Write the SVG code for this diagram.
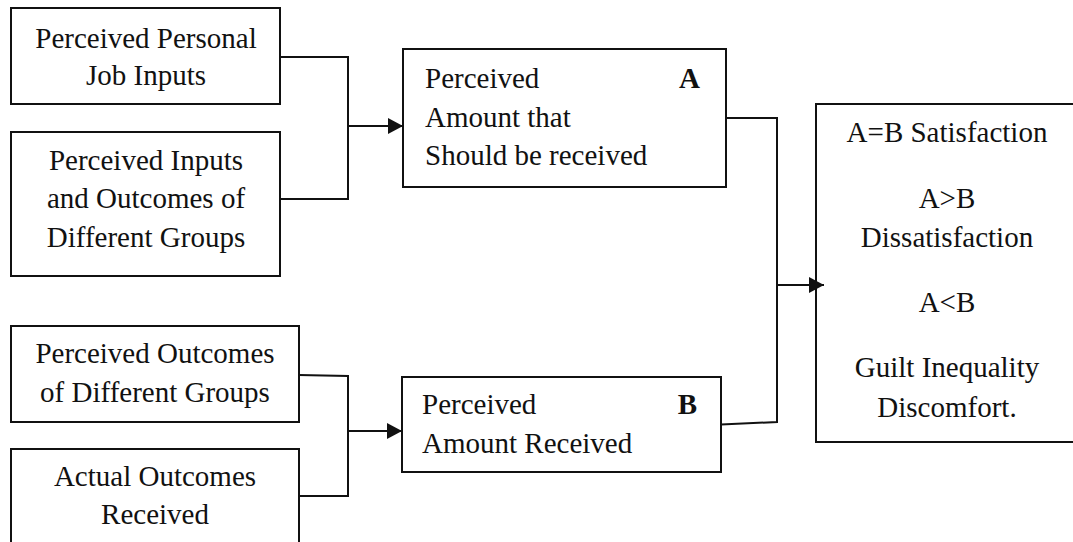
<svg xmlns="http://www.w3.org/2000/svg" width="1073" height="542" viewBox="0 0 1073 542">
  <style>
    .box { fill: #ffffff; stroke: #111111; stroke-width: 2; }
    .t { font-family: 'Liberation Serif', 'Times New Roman', serif; font-size: 29px; fill: #111111; }
    .c { text-anchor: middle; }
    .b { font-weight: bold; }
    .wire { fill: none; stroke: #111111; stroke-width: 2; }
  </style>
  <defs>
    <marker id="head" markerWidth="15" markerHeight="16" refX="15" refY="8" orient="auto" markerUnits="userSpaceOnUse">
      <path d="M0,0 L15,8 L0,16 Z" fill="#111111"/>
    </marker>
  </defs>

  <rect width="1073" height="542" fill="#ffffff"/>

  <!-- input boxes, upper pair -->
  <g id="personal-inputs">
    <rect class="box" x="11" y="8" width="269" height="96"/>
    <text class="t c" x="146" y="48">Perceived Personal</text>
    <text class="t c" x="146" y="85">Job Inputs</text>
  </g>
  <g id="group-inputs">
    <rect class="box" x="11" y="132" width="269" height="144"/>
    <text class="t c" x="146" y="170">Perceived Inputs</text>
    <text class="t c" x="146" y="208">and Outcomes of</text>
    <text class="t c" x="146" y="247">Different Groups</text>
  </g>

  <!-- input boxes, lower pair -->
  <g id="group-outcomes">
    <rect class="box" x="11" y="326" width="288" height="96"/>
    <text class="t c" x="155" y="363">Perceived Outcomes</text>
    <text class="t c" x="155" y="402">of Different Groups</text>
  </g>
  <g id="actual-outcomes">
    <rect class="box" x="11" y="449" width="288" height="96"/>
    <text class="t c" x="155" y="486">Actual Outcomes</text>
    <text class="t c" x="155" y="524">Received</text>
  </g>

  <!-- A and B -->
  <g id="amount-should">
    <rect class="box" x="403" y="49" width="323" height="138"/>
    <text class="t" x="425" y="88">Perceived</text>
    <text class="t b" x="700" y="88" text-anchor="end">A</text>
    <text class="t" x="425" y="127">Amount that</text>
    <text class="t" x="425" y="165">Should be received</text>
  </g>
  <g id="amount-received">
    <rect class="box" x="402" y="377" width="319" height="95"/>
    <text class="t" x="422" y="414">Perceived</text>
    <text class="t b" x="697" y="414" text-anchor="end">B</text>
    <text class="t" x="422" y="453">Amount Received</text>
  </g>

  <!-- outcome box -->
  <g id="result">
    <rect class="box" x="816" y="104" width="270" height="338"/>
    <text class="t c" x="947" y="142">A=B Satisfaction</text>
    <text class="t c" x="947" y="208">A&gt;B</text>
    <text class="t c" x="947" y="247">Dissatisfaction</text>
    <text class="t c" x="947" y="312">A&lt;B</text>
    <text class="t c" x="947" y="377">Guilt Inequality</text>
    <text class="t c" x="947" y="417">Discomfort.</text>
  </g>

  <!-- connectors -->
  <g id="connectors">
    <path class="wire" d="M280,57 H348 V199 H280"/>
    <path class="wire" d="M348,126 H403" marker-end="url(#head)"/>
    <path class="wire" d="M299,375 L348,376 V496 H299"/>
    <path class="wire" d="M348,431 H402" marker-end="url(#head)"/>
    <path class="wire" d="M726,118 H777 V422 L721,424.5"/>
    <path class="wire" d="M777,285 H824" marker-end="url(#head)"/>
  </g>
</svg>
